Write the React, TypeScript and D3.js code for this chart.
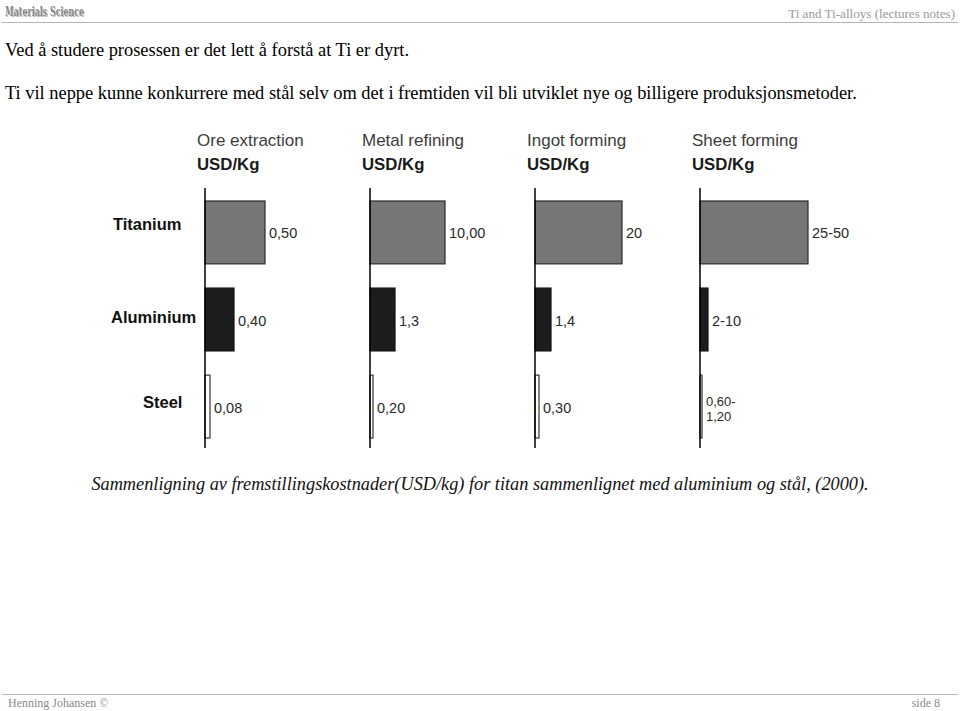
import React from "react";
import * as d3 from "d3";

// ---------- data ----------
const stages = ["Ore extraction", "Metal refining", "Ingot forming", "Sheet forming"];
const materials = ["Titanium", "Aluminium", "Steel"];
const unitLabel = "USD/Kg";
// value labels printed next to each bar (per stage)
const titaniumLabels = ["0,50", "10,00", "20", "25-50"];
const aluminiumLabels = ["0,40", "1,3", "1,4", "2-10"];
const steelLabels = ["0,08", "0,20", "0,30", "0,60-\n1,20"];
// schematic bar lengths as drawn in the figure (relative units, not to a common scale)
const titaniumLength = [60, 75, 87, 108];
const aluminiumLength = [29, 25, 16, 8];
const steelLength = [5, 3, 4, 2];

const headerRight = "Ti and Ti-alloys (lectures notes)";
const line1 = "Ved å studere prosessen er det lett å forstå at Ti er dyrt.";
const line2 = "Ti vil neppe kunne konkurrere med stål selv om det i fremtiden vil bli utviklet nye og billigere produksjonsmetoder.";
const caption = "Sammenligning av fremstillingskostnader(USD/kg) for titan sammenlignet med aluminium og stål, (2000).";
const footerLeft = "Henning Johansen ©";
const footerRight = "side 8";

const labelsByMaterial = [titaniumLabels, aluminiumLabels, steelLabels];
const lengthByMaterial = [titaniumLength, aluminiumLength, steelLength];

// ---------- styling / layout ----------
const fills = ["#767676", "#1c1c1c", "#ffffff"];
const strokes = ["#2a2a2a", "#111111", "#333333"];
const rowLabelX = [113, 111, 143];
const rowLabelDy = [-2, 3, 1];
const SANS = "'Liberation Sans', Arial, sans-serif";
const SERIF = "'Liberation Serif', 'Times New Roman', serif";

export default function App() {
  const W = 960, H = 711;
  const xPanel = d3.scaleBand<string>().domain(stages).range([205, 205 + 165 * 4]).paddingInner(0).paddingOuter(0);
  const yRow = d3.scaleBand<string>().domain(materials).range([201, 438]).paddingInner(0.278).paddingOuter(0);
  const len = d3.scaleLinear().domain([0, 110]).range([0, 110]);
  const axisTop = 188, axisBottom = 448;

  return (
    <svg width={W} height={H} style={{ position: "absolute", left: 0, top: 0, background: "#fff" }}>
      <defs>
        <filter id="logoShadow" x="-10%" y="-30%" width="130%" height="180%">
          <feGaussianBlur in="SourceAlpha" stdDeviation="0.7" />
          <feOffset dx="1" dy="1" result="b" />
          <feFlood floodColor="#bbb" />
          <feComposite in2="b" operator="in" />
          <feMerge>
            <feMergeNode />
            <feMergeNode in="SourceGraphic" />
          </feMerge>
        </filter>
      </defs>
      {/* header */}
      <text x={5} y={16} fontFamily="'DejaVu Serif', serif" fontWeight="bold" fontSize={13} fill="#8a8a8a"
        textLength={79} lengthAdjust="spacingAndGlyphs" filter="url(#logoShadow)">Materials Science</text>
      <text x={955} y={18} textAnchor="end" fontFamily={SERIF} fontSize={13.1} fill="#9a9a9a">{headerRight}</text>
      <line x1={2} x2={958} y1={22.5} y2={22.5} stroke="#b5b5b5" strokeWidth={1} />

      {/* body text */}
      <text x={5} y={56} fontFamily={SERIF} fontSize={18.4} fill="#000">{line1}</text>
      <text x={5} y={99} fontFamily={SERIF} fontSize={18.4} fill="#000">{line2}</text>

      {/* chart */}
      {materials.map((m, i) => (
        <text key={m} x={rowLabelX[i]} y={(yRow(m) as number) + yRow.bandwidth() / 2 + rowLabelDy[i]}
          fontFamily={SANS} fontWeight="bold" fontSize={16.5} fill="#111">{m}</text>
      ))}
      {stages.map((s, j) => {
        const x0 = xPanel(s) as number;
        return (
          <g key={s}>
            <text x={x0 - 8} y={146} fontFamily={SANS} fontSize={17} fill="#3c3c3c">{s}</text>
            <text x={x0 - 8} y={170} fontFamily={SANS} fontWeight="bold" fontSize={16.8} fill="#1a1a1a">{unitLabel}</text>
            {materials.map((m, i) => {
              const y0 = yRow(m) as number;
              const w = len(lengthByMaterial[i][j]);
              const lines = labelsByMaterial[i][j].split("\n");
              const cy = y0 + yRow.bandwidth() / 2;
              const multi = lines.length > 1;
              return (
                <g key={m}>
                  <rect x={x0} y={y0} width={w} height={yRow.bandwidth()} fill={fills[i]} stroke={strokes[i]} strokeWidth={1.2} />
                  {lines.map((t, k) => (
                    <text key={k} x={x0 + w + 4} y={cy + (multi ? -1 + k * 15 : 6)}
                      fontFamily={SANS} fontSize={multi ? 13 : 14.5} fill="#2a2a2a">{t}</text>
                  ))}
                </g>
              );
            })}
            <line x1={x0} x2={x0} y1={axisTop} y2={axisBottom} stroke="#000" strokeWidth={1.5} />
          </g>
        );
      })}

      {/* caption */}
      <text x={480} y={490} textAnchor="middle" fontFamily={SERIF} fontStyle="italic" fontSize={18.3} fill="#111">{caption}</text>

      {/* footer */}
      <line x1={2} x2={958} y1={694.5} y2={694.5} stroke="#b5b5b5" strokeWidth={1} />
      <text x={8} y={707} fontFamily={SERIF} fontSize={12} fill="#8a8a8a">{footerLeft}</text>
      <text x={940} y={707} textAnchor="end" fontFamily={SERIF} fontSize={12} fill="#8a8a8a">{footerRight}</text>
    </svg>
  );
}
